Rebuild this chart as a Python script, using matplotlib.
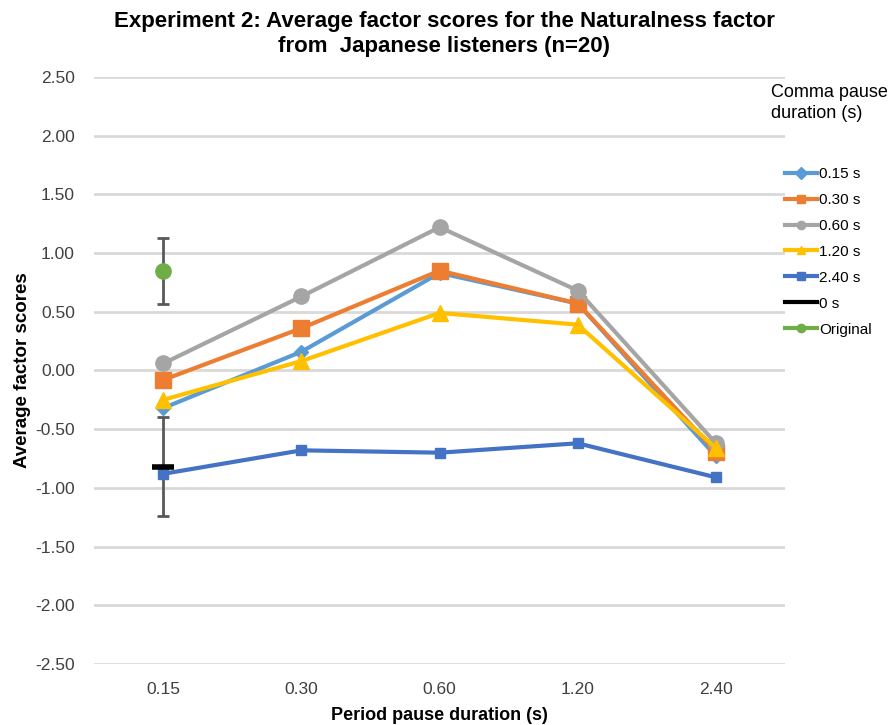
import numpy as np
import matplotlib.pyplot as plt
from matplotlib.lines import Line2D

plt.rcParams['font.family'] = ['Liberation Sans', 'DejaVu Sans']

# Datos
categories = ['0.15', '0.30', '0.60', '1.20', '2.40']
s015 = [-0.32, 0.16, 0.83, 0.57, -0.73]
s030 = [-0.08, 0.36, 0.85, 0.57, -0.69]
s060 = [0.06, 0.63, 1.22, 0.68, -0.62]
s120 = [-0.25, 0.08, 0.49, 0.39, -0.66]
s240 = [-0.88, -0.68, -0.70, -0.62, -0.91]
zero_val, zero_err = -0.82, 0.42
orig_val, orig_err = 0.85, 0.28

series = [
    ('0.15 s', s015, '#5B9BD5', 'D', 7),
    ('0.30 s', s030, '#ED7D31', 's', 11),
    ('0.60 s', s060, '#A5A5A5', 'o', 11),
    ('1.20 s', s120, '#FFC000', '^', 11),
    ('2.40 s', s240, '#4472C4', 's', 7),
]

fig = plt.figure(figsize=(8.89, 7.25), dpi=100)
ax = fig.add_axes([0.106, 0.084, 0.777, 0.810])
x = np.arange(len(categories))

for name, vals, col, mk, ms in series:
    ax.plot(x, vals, color=col, lw=3, marker=mk, ms=ms, zorder=3)

# 0 s y Original con barras de error
ax.errorbar([0], [zero_val], yerr=[zero_err], fmt='none', ecolor='#595959',
            elinewidth=2, capsize=4, capthick=2, zorder=2)
ax.plot([0], [zero_val], marker='_', color='black', ms=16, mew=4, zorder=4)
ax.errorbar([0], [orig_val], yerr=[orig_err], fmt='none', ecolor='#595959',
            elinewidth=2, capsize=4, capthick=2, zorder=2)
ax.plot([0], [orig_val], marker='o', color='#70AD47', ms=11, ls='none', zorder=4)

ax.set_xlim(-0.5, 4.5)
ax.set_ylim(-2.5, 2.5)
yt = np.arange(-2.5, 2.51, 0.5)
ax.set_yticks(yt)
ax.set_yticklabels([f'{v:.2f}' for v in yt])
ax.set_xticks(x)
ax.set_xticklabels(categories)
ax.tick_params(length=0, labelsize=12.5, colors='#404040')
ax.tick_params(axis='y', pad=14)
ax.tick_params(axis='x', pad=13)
ax.grid(axis='y', color='#D9D9D9', lw=2)
ax.set_axisbelow(True)
for sp in ax.spines.values():
    sp.set_visible(False)

ax.set_xlabel('Period pause duration (s)', fontsize=13, fontweight='bold', labelpad=7)
ax.set_ylabel('Average factor scores', fontsize=13.5, fontweight='bold', labelpad=3)

fig.text(0.5, 0.953, 'Experiment 2: Average factor scores for the Naturalness factor\nfrom  Japanese listeners (n=20)',
         ha='center', va='center', fontsize=16, fontweight='bold', linespacing=1.2)

handles = [Line2D([], [], color=c, lw=3, marker=m, ms=6) for _, _, c, m, _ in series]
handles.append(Line2D([], [], color='black', lw=3))
handles.append(Line2D([], [], color='#70AD47', lw=3, marker='o', ms=6))
labels = [s[0] for s in series] + ['0 s', 'Original']
fig.legend(handles, labels, loc='upper left', bbox_to_anchor=(0.876, 0.778),
           frameon=False, fontsize=11, handlelength=2.1, handletextpad=0.15,
           labelspacing=0.78, borderaxespad=0)
fig.text(0.867, 0.858, 'Comma pause\nduration (s)', ha='left', va='center',
         fontsize=13, color='#000000', linespacing=1.25)

plt.savefig('out.png')
plt.close()
